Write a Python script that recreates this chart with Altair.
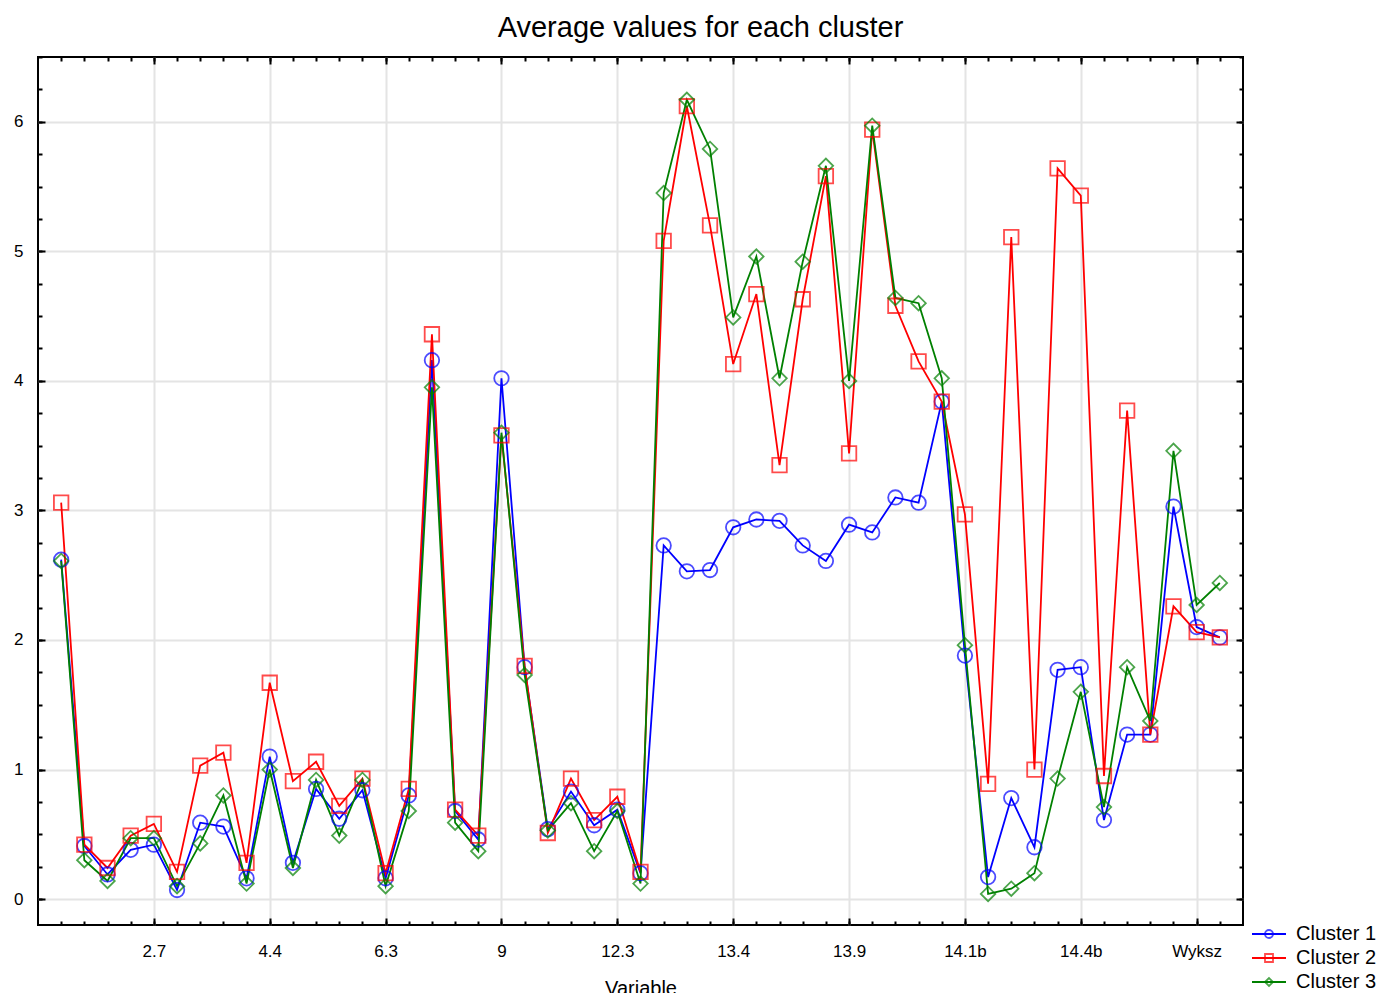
import altair as alt
import pandas as pd

# ---------------- data ----------------
cluster_names = ["Cluster 1", "Cluster 2", "Cluster 3"]
cluster_colors = ["#0000ff", "#ff0000", "#008000"]
cluster_shapes = ["circle", "square", "diamond"]

cluster1 = [2.62, 0.41, 0.19, 0.38, 0.42, 0.07, 0.59, 0.56, 0.16, 1.10,
            0.28, 0.85, 0.62, 0.84, 0.16, 0.80, 4.16, 0.68, 0.46, 4.02,
            1.79, 0.54, 0.83, 0.57, 0.69, 0.20, 2.73, 2.53, 2.54, 2.87,
            2.93, 2.92, 2.73, 2.61, 2.89, 2.83, 3.10, 3.06, 3.84, 1.88,
            0.17, 0.78, 0.40, 1.77, 1.79, 0.61, 1.27, 1.27, 3.03, 2.10, 2.02]
cluster2 = [3.06, 0.42, 0.24, 0.49, 0.58, 0.21, 1.03, 1.13, 0.28, 1.67,
            0.91, 1.06, 0.72, 0.93, 0.20, 0.85, 4.36, 0.69, 0.49, 3.58,
            1.80, 0.51, 0.93, 0.61, 0.79, 0.21, 5.08, 6.12, 5.20, 4.13,
            4.67, 3.35, 4.63, 5.58, 3.44, 5.94, 4.58, 4.15, 3.84, 2.97,
            0.89, 5.11, 1.00, 5.64, 5.43, 0.95, 3.77, 1.27, 2.26, 2.06, 2.02]
cluster3 = [2.61, 0.30, 0.14, 0.47, 0.47, 0.10, 0.43, 0.80, 0.12, 1.00,
            0.24, 0.92, 0.49, 0.92, 0.10, 0.68, 3.95, 0.59, 0.37, 3.60,
            1.73, 0.53, 0.74, 0.37, 0.68, 0.12, 5.45, 6.17, 5.79, 4.49,
            4.96, 4.02, 4.92, 5.66, 4.00, 5.97, 4.64, 4.60, 4.02, 1.96,
            0.04, 0.08, 0.20, 0.93, 1.60, 0.71, 1.79, 1.375, 3.46, 2.27, 2.44]

x_tick_positions = [4, 9, 14, 19, 24, 29, 34, 39, 44, 49]
x_tick_labels = ["2.7", "4.4", "6.3", "9", "12.3", "13.4", "13.9", "14.1b", "14.4b", "Wyksz"]
x_minor_positions = list(range(51))
y_major_values = [0, 1, 2, 3, 4, 5, 6]
y_minor_values = [i * 0.25 for i in range(27)]

rows = []
for name, vals in zip(cluster_names, [cluster1, cluster2, cluster3]):
    for i, v in enumerate(vals):
        rows.append({"idx": i, "value": v, "cluster": name, "series": name})
df = pd.DataFrame(rows)

FONT = "Liberation Sans"
x_scale = alt.Scale(domain=[-1, 51], nice=False, zero=False)
y_scale = alt.Scale(domain=[-0.2, 6.5], nice=False, zero=False)

label_expr = "[" + ",".join("'%s'" % s for s in x_tick_labels) + "][(datum.value-4)/5]"

def tick_axis(orient, values, size):
    return alt.Axis(orient=orient, values=values, tickSize=size, offset=-size,
                    tickWidth=2, tickColor="black", labels=False, domain=False,
                    grid=False, title=None)

LEG_X = 1221
LEG_Y = 867
common_leg = dict(orient="none", legendX=LEG_X, legendY=LEG_Y, title=None,
                  symbolSize=64, symbolStrokeWidth=1.8, labelFontSize=20,
                  labelFont=FONT, labelColor="black", labelOffset=17,
                  padding=0, rowPadding=4)

lines = alt.Chart(df).mark_line(strokeWidth=1.8).encode(
    x=alt.X("idx:Q", scale=x_scale, axis=alt.Axis(
        orient="bottom", values=x_tick_positions, labelExpr=label_expr,
        tickSize=7, offset=-7, tickWidth=2, tickColor="black", domain=False,
        grid=True, gridColor="#e4e4e4", gridWidth=2,
        labelFontSize=17, labelFont=FONT, labelColor="black", labelPadding=18,
        labelFlush=False, labelOverlap=False,
        title="Variable", titleFont=FONT, titleFontSize=20, titleFontWeight="normal",
        titleColor="black", titleBaseline="top", titleY=60)),
    y=alt.Y("value:Q", scale=y_scale, axis=alt.Axis(
        orient="left", values=y_major_values, tickSize=7, offset=-7, tickWidth=2,
        tickColor="black", domain=False, grid=True, gridColor="#e4e4e4", gridWidth=2,
        labelFontSize=17, labelFont=FONT, labelColor="black", labelPadding=15,
        title=None)),
    stroke=alt.Stroke("series:N", scale=alt.Scale(range=cluster_colors),
                      legend=alt.Legend(symbolType="M-4.25,0H4.25", labelOpacity=0, **common_leg)),
    order="idx:Q",
)

points = alt.Chart(df).mark_point(filled=False, size=210, strokeWidth=1.8).encode(
    x=alt.X("idx:Q", scale=x_scale, axis=None),
    y=alt.Y("value:Q", scale=y_scale, axis=None),
    color=alt.Color("cluster:N", scale=alt.Scale(domain=cluster_names, range=cluster_colors),
                    legend=alt.Legend(**common_leg)),
    shape=alt.Shape("cluster:N", scale=alt.Scale(domain=cluster_names, range=cluster_shapes),
                    legend=alt.Legend(**common_leg)),
)

def dummy(xaxis, yaxis):
    return alt.Chart(df).mark_point(opacity=0, size=1).encode(
        x=alt.X("idx:Q", scale=x_scale, axis=xaxis),
        y=alt.Y("value:Q", scale=y_scale, axis=yaxis),
    )

minor_bl = dummy(tick_axis("bottom", x_minor_positions, 4), tick_axis("left", y_minor_values, 4))
major_tr = dummy(tick_axis("top", x_tick_positions, 7), tick_axis("right", y_major_values, 7))
minor_tr = dummy(tick_axis("top", x_minor_positions, 4), tick_axis("right", y_minor_values, 4))

chart = alt.layer(lines, points, minor_bl, major_tr, minor_tr).resolve_axis(
    x="independent", y="independent"
).properties(
    width=1205, height=868,
    padding={"left": 38, "top": 57, "right": 151, "bottom": 68},
    autosize=alt.AutoSizeParams(type="none"),
    title=alt.TitleParams("Average values for each cluster", font=FONT, fontSize=29,
                          fontWeight="normal", color="black", anchor="middle",
                          dx=60, offset=-10, baseline="alphabetic"),
    background="white",
).configure_view(stroke="black", strokeWidth=2)

chart.save("out.html", embed_options={"renderer": "svg", "actions": False})
